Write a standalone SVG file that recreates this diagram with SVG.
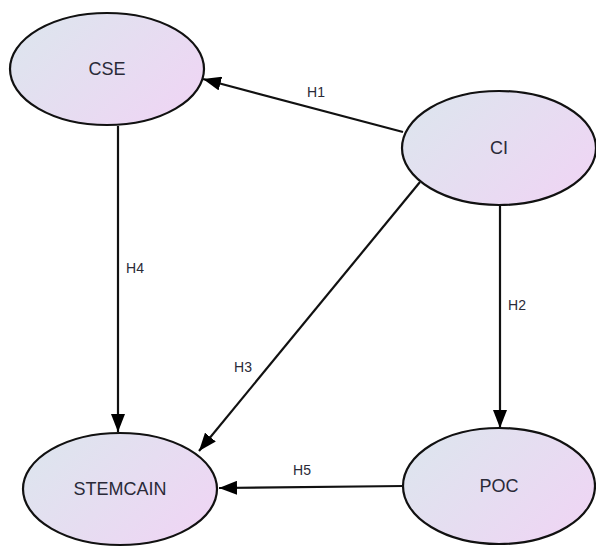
<svg xmlns="http://www.w3.org/2000/svg" width="596" height="547" viewBox="0 0 596 547">
<style>
.node ellipse{fill:url(#g);stroke:#111;stroke-width:2.2}
.node text{font-family:"Liberation Sans",Arial,sans-serif;font-size:18px;fill:#2a2a38;text-anchor:middle;dominant-baseline:central}
.edge line{stroke:#111;stroke-width:2.2;marker-end:url(#arr)}
.lbl{font-family:"Liberation Sans",Arial,sans-serif;font-size:14px;fill:#2a2a38;text-anchor:middle;dominant-baseline:central}
</style>
<defs>
<linearGradient id="g" x1="0" y1="0.2" x2="1" y2="0.8">
<stop offset="0" stop-color="#dde5ee"/>
<stop offset="1" stop-color="#efd5f4"/>
</linearGradient>
<marker id="arr" markerWidth="18" markerHeight="14" refX="18" refY="7" orient="auto" markerUnits="userSpaceOnUse">
<path d="M0,0 L18,7 L0,14 Z" fill="#000"/>
</marker>
</defs>
<rect width="596" height="547" fill="#fff"/>
<g id="connectors" class="edge">
<line x1="403" y1="132" x2="203" y2="79"/>
<line x1="500" y1="205" x2="500" y2="428"/>
<line x1="420" y1="182" x2="199" y2="451"/>
<line x1="118" y1="126" x2="118" y2="432"/>
<line x1="404" y1="486" x2="219" y2="488"/>
</g>
<g id="labels">
<text class="lbl" x="316" y="92">H1</text>
<text class="lbl" x="517" y="305">H2</text>
<text class="lbl" x="243" y="367">H3</text>
<text class="lbl" x="135" y="268">H4</text>
<text class="lbl" x="302" y="470">H5</text>
</g>
<g id="CSE" class="node"><ellipse cx="107" cy="69" rx="97" ry="56"/><text x="107" y="69">CSE</text></g>
<g id="CI" class="node"><ellipse cx="499" cy="148" rx="97" ry="57"/><text x="499" y="148">CI</text></g>
<g id="STEMCAIN" class="node"><ellipse cx="120" cy="489" rx="97" ry="56"/><text x="120" y="489">STEMCAIN</text></g>
<g id="POC" class="node"><ellipse cx="499" cy="486" rx="96" ry="58"/><text x="499" y="486">POC</text></g>
</svg>
